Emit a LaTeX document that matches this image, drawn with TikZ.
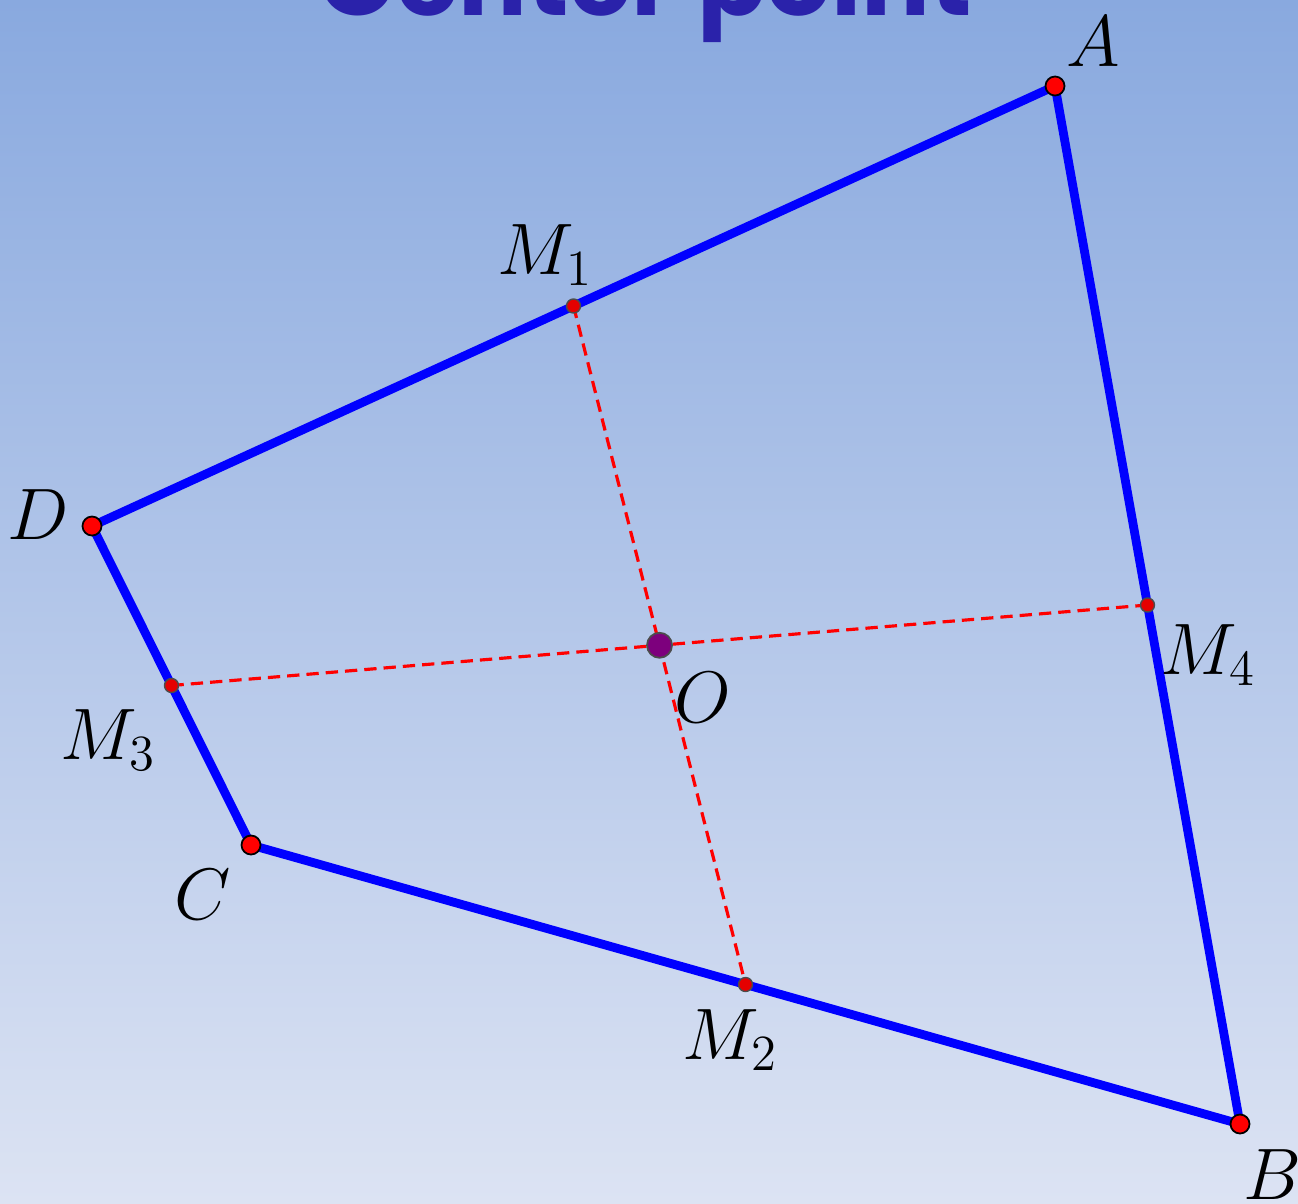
\documentclass[tikz,border=0pt]{standalone}
\usepackage{fontspec}
\newfontfamily\titlefont{Poppins}
\usetikzlibrary{calc}

\definecolor{bgtop}{RGB}{137,169,223}
\definecolor{bgbottom}{RGB}{220,227,243}
\definecolor{titleblue}{RGB}{42,34,170}
\definecolor{centerpurple}{RGB}{125,0,125}

\begin{document}
\begin{tikzpicture}[
    x=0.01cm, y=-0.01cm,
    text=black,
    dot/.style={circle, fill=red, draw=black, line width=0.5pt, minimum size=1.9mm, inner sep=0pt},
    middot/.style={circle, fill=red!90!black, draw=black!70, line width=0.4pt, minimum size=1.4mm, inner sep=0pt},
    centerdot/.style={circle, fill=centerpurple, draw=black!70, line width=0.5pt, minimum size=2.5mm, inner sep=0pt},
    side/.style={blue, line width=2.5pt},
    median/.style={red, line width=0.9pt, dash pattern=on 3.5pt off 2pt},
    lbl/.style={font=\fontsize{22}{26}\selectfont},
]

% ==================== BACKGROUND ====================
\useasboundingbox (0,0) rectangle (1298,1203);
\clip (0,0) rectangle (1298,1203);
\shade[top color=bgtop, bottom color=bgbottom] (0,0) rectangle (1298,1203);

% Title (cut off by the top edge)
\node[anchor=base, text=titleblue, font=\titlefont\bfseries\fontsize{29}{35}\selectfont, inner sep=0pt]
    (title) at (645,15) {Center point};

% ==================== QUADRILATERAL ====================
\coordinate (A) at (1055,86);
\coordinate (B) at (1240,1124);
\coordinate (C) at (251,845);
\coordinate (D) at (92,526);

% Midpoints of the sides
\coordinate (M1) at ($(A)!0.5!(D)$);
\coordinate (M2) at ($(C)!0.5!(B)$);
\coordinate (M3) at ($(D)!0.5!(C)$);
\coordinate (M4) at ($(A)!0.5!(B)$);
\coordinate (O)  at ($(M1)!0.5!(M2)$);

% Segments joining opposite midpoints
\draw[median] (M1) -- (M2);
\draw[median] (M3) -- (M4);

% Sides
\draw[side] (A) -- (B) -- (C) -- (D) -- cycle;

% Midpoint dots
\node[middot] (m1) at (M1) {};
\node[middot] (m2) at (M2) {};
\node[middot] (m3) at (M3) {};
\node[middot] (m4) at (M4) {};

% Vertex dots
\node[dot] (a) at (A) {};
\node[dot] (b) at (B) {};
\node[dot] (c) at (C) {};
\node[dot] (d) at (D) {};

% Center dot
\node[centerdot] (o) at (O) {};

% Labels
\node[lbl] at (1093,42)  {$A$};
\node[lbl] at (1272,1175) {$B$};
\node[lbl] at (203,895)  {$C$};
\node[lbl] at (38,515)   {$D$};
\node[lbl] at (545,255)  {$M_1$};
\node[lbl] at (730,1040) {$M_2$};
\node[lbl] at (108,740)  {$M_3$};
\node[lbl] at (1208,655) {$M_4$};
\node[lbl] at (703,698)  {$O$};

\end{tikzpicture}
\end{document}
